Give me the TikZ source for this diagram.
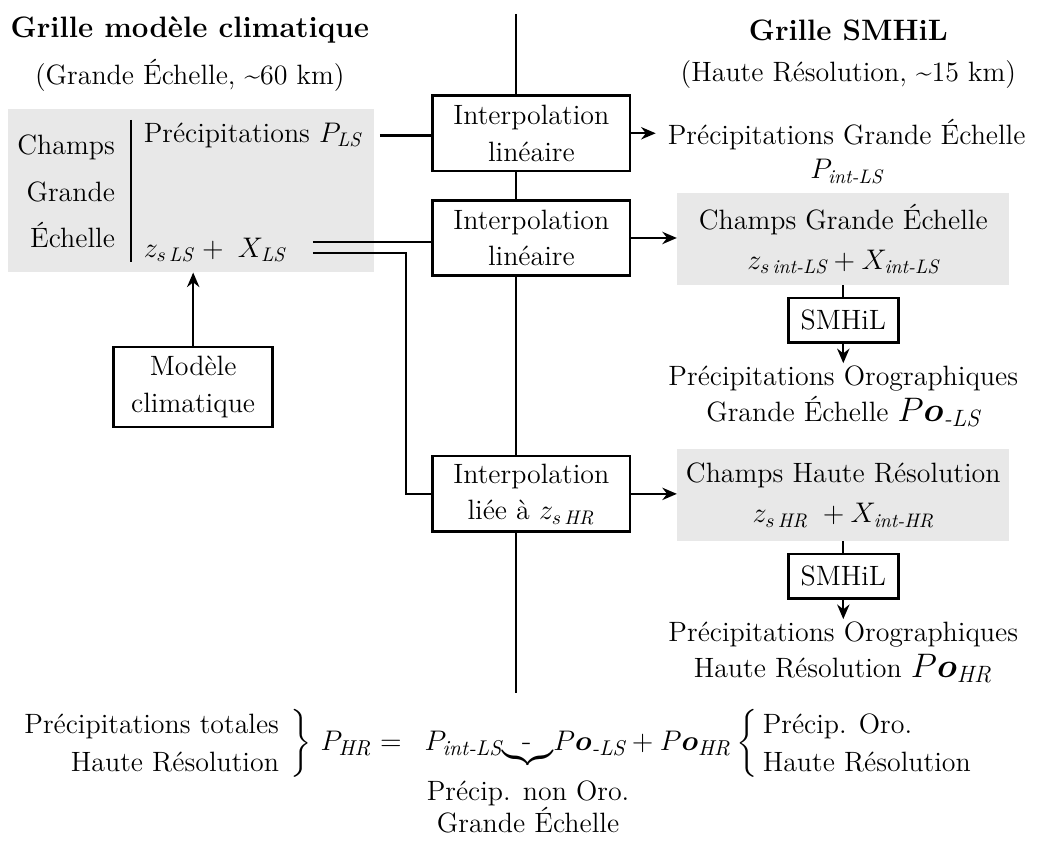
\documentclass[tikz,border=0pt,12pt]{standalone}
\usepackage{amsmath,bm}
\usetikzlibrary{positioning,arrows.meta,calc}
\definecolor{champgris}{HTML}{E8E8E8}
\tikzset{
  every node/.append style={font=\fontsize{14.2pt}{16.6pt}\selectfont},
  titre/.style={font=\fontsize{15pt}{18pt}\selectfont\bfseries},
  interp/.style={draw, line width=1.4pt, minimum width=3.52cm, minimum height=1.35cm, align=center, inner sep=2pt},
  champ/.style={fill=champgris, align=center, minimum width=5.93cm, minimum height=1.64cm},
  smh/.style={draw, line width=1.4pt, minimum width=1.96cm, minimum height=0.8cm, inner sep=2pt},
  txt/.style={align=center},
  res/.style={align=center, inner sep=1pt},
  fl/.style={-{Stealth[length=2.6mm, width=2.2mm]}, line width=1.1pt},
  ln/.style={line width=1.1pt},
}

\begin{document}
\begin{tikzpicture}
  \useasboundingbox (0,0) rectangle (18.68,-15.05);
  % titres
  \node[titre] (t1) at (3.39,-0.54) {Grille modèle climatique};
  \node (st1) at (3.39,-1.34) {(Grande Échelle, \textasciitilde60 km)};
  \node[titre] (t2) at (15.15,-0.54) {Grille SMHiL};
  \node (st2) at (15.15,-1.34) {(Haute Résolution, \textasciitilde15 km)};

  % ligne de separation et interpolations
  \coordinate (haut) at (9.21,-0.25);
  \coordinate (bas) at (9.21,-12.38);
  \node[interp] (i1) at (9.49,-2.38) {Interpolation\\[2pt]linéaire};
  \node[interp] (i2) at (9.49,-4.25) {Interpolation\\[2pt]linéaire};
  \node[interp] (i3) at (9.49,-8.82) {Interpolation\\[2pt]liée à $z_{s\,\mathit{HR}}$};
  \draw[ln] (haut) -- (haut |- i1.north);
  \draw[ln] (haut |- i1.south) -- (haut |- i2.north);
  \draw[ln] (haut |- i2.south) -- (haut |- i3.north);
  \draw[ln] (haut |- i3.south) -- (bas);

  % champs grande echelle
  \node[fill=champgris, minimum width=6.54cm, minimum height=2.91cm] (gLS) at (3.41,-3.405) {};
  \node[anchor=east, align=right] (chp) at (2.2,-3.42) {Champs\\[7pt]Grande\\[7pt]Échelle};
  \draw[ln] (2.34,-2.14) -- (2.34,-4.68);
  \node[anchor=west] (pls) at (2.42,-2.42) {Précipitations $P_{\mathit{LS}}$};
  \node[anchor=west] (zls) at (2.42,-4.46) {$z_{s\,\mathit{LS}} + \; X_{\mathit{LS}}$};
  \draw[ln, shorten <=4pt] (pls.east) -- (pls.east -| i1.west);
  \coordinate (zA) at ($(zls.east)+(0.3,0.14)$);
  \coordinate (zB) at ($(zls.east)+(0.3,-0.06)$);
  \draw[ln] (zA) -- (zA -| i2.west);
  \draw[ln] (zB) -- ($(zB -| i3.west)+(-0.46,0)$) |- (i3.west);

  \node[interp, minimum width=2.84cm, minimum height=1.43cm] (mod) at (3.45,-6.91) {Modèle\\[2pt]climatique};
  \draw[fl] (mod.north) -- (mod.north |- gLS.south);

  % grille SMHiL
  \node[txt] (pgs) at (15.12,-2.7) {Précipitations Grande Échelle\\[1pt]$P_{\textit{int-LS}}$};
  \draw[fl, shorten >=2pt] (i1.east) -- (i1.east -| pgs.west);

  \node[champ] (gInt) at (15.06,-4.27) {Champs Grande Échelle\\[4pt]$z_{s\,\textit{int-LS}} + X_{\textit{int-LS}}$};
  \draw[fl] (i2.east) -- (i2.east -| gInt.west);
  \node[smh, below=0.2cm of gInt] (s1) {SMHiL};
  \draw[ln] (gInt) -- (s1);
  \node[res, below=0.34cm of s1] (po1) {Précipitations Orographiques\\[2pt]Grande Échelle {\Large$P\bm{o}_{\textit{-LS}}$}};
  \draw[fl] (s1) -- (po1);

  \node[champ] (gHR) at (15.06,-8.84) {Champs Haute Résolution\\[4pt]$z_{s\,\mathit{HR}}\; + X_{\textit{int-HR}}$};
  \draw[fl] (i3.east) -- (i3.east -| gHR.west);
  \node[smh, below=0.2cm of gHR] (s2) {SMHiL};
  \draw[ln] (gHR) -- (s2);
  \node[res, below=0.34cm of s2] (po2) {Précipitations Orographiques\\[2pt]Haute Résolution {\Large$P\bm{o}_{\mathit{HR}}$}};
  \draw[fl] (s2) -- (po2);

  % equation finale
  \node[anchor=east, align=right] (tot) at (5.13,-13.27) {Précipitations totales\\[3pt]Haute Résolution};
  \node[anchor=west, inner sep=0pt, font=\fontsize{15.5pt}{18pt}\selectfont] (eq) at (tot.east) {$\left.\vphantom{\begin{array}{c}A\\[2pt]A\end{array}}\right\}\, P_{\mathit{HR}} =\enspace P_{\textit{int-LS}}{\underbrace{\hspace{7pt}\text{-}\hspace{8pt}}}P\bm{o}_{\textit{-LS}} + P\bm{o}_{\mathit{HR}}\left\{\vphantom{\begin{array}{c}A\\[2pt]A\end{array}}\right.$};
  \node[anchor=west, align=left, inner xsep=1pt] (oro) at (eq.east) {Précip. Oro.\\[3pt]Haute Résolution};
  \node[txt] (nono) at (9.43,-14.41) {Précip. non Oro.\\Grande Échelle};
\end{tikzpicture}
\end{document}
